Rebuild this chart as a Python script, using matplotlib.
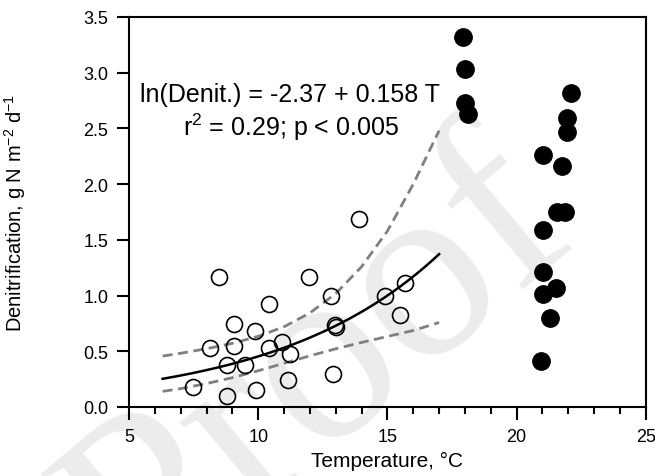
import numpy as np
import matplotlib
matplotlib.use("Agg")
import matplotlib.pyplot as plt
from matplotlib.ticker import MultipleLocator

plt.rcParams["font.family"] = ["Liberation Sans", "DejaVu Sans"]
plt.rcParams["mathtext.fontset"] = "custom"
plt.rcParams["mathtext.rm"] = "Liberation Sans"
plt.rcParams["mathtext.default"] = "regular"

# ─── Data ───────────────────────────────────────────────────────
# open circles: cooler-period samples used in the regression
open_temp = [7.46, 8.80, 9.90, 11.15, 12.90, 8.13, 8.80, 9.49, 9.06, 9.06,
             9.89, 10.42, 10.92, 11.23, 10.40, 8.47, 11.98, 12.81, 12.99,
             13.02, 13.91, 14.92, 15.68, 15.50]
open_denit = [0.18, 0.10, 0.15, 0.24, 0.30, 0.53, 0.38, 0.38, 0.55, 0.745,
              0.685, 0.53, 0.585, 0.475, 0.92, 1.17, 1.17, 1.00, 0.74,
              0.72, 1.69, 1.00, 1.11, 0.825]

# filled circles: warm-period samples
filled_temp = [17.93, 18.02, 18.02, 18.10, 22.12, 21.94, 21.94, 21.03, 21.77,
               21.57, 21.87, 21.03, 21.03, 21.52, 21.03, 21.29, 20.94]
filled_denit = [3.32, 3.03, 2.73, 2.63, 2.82, 2.59, 2.47, 2.26, 2.16,
                1.75, 1.75, 1.59, 1.21, 1.07, 1.01, 0.80, 0.41]

# fitted model ln(Denit.) = a + b T, drawn over the open-circle range
fit_intercept = -2.37
fit_slope = 0.158
fit_range = [6.3, 17.0]

# confidence band (dashed), read at these temperatures
band_temp = [6.3, 7, 8, 9, 10, 11, 12, 13, 14, 15, 16, 17]
band_upper = [0.457, 0.482, 0.523, 0.571, 0.634, 0.720, 0.844, 1.018,
              1.259, 1.579, 2.00, 2.48]
band_lower = [0.140, 0.165, 0.210, 0.263, 0.325, 0.392, 0.459, 0.522,
              0.579, 0.633, 0.686, 0.758]

# ─── Figure ─────────────────────────────────────────────────────
fig = plt.figure(figsize=(6.55, 4.77), dpi=100)
ax = fig.add_axes([0.197, 0.1447, 0.789, 0.8176])
ax.patch.set_alpha(0)

# "Proof" watermark behind everything
fig.text(0.49, 0.22, "Proof", fontsize=185, family="Liberation Serif",
         color="#ececec", rotation=40, ha="center", va="center", zorder=-1)

t = np.linspace(fit_range[0], fit_range[1], 200)
ax.plot(t, np.exp(fit_intercept + fit_slope * t), color="black", lw=1.8,
        zorder=3)
ax.plot(band_temp, band_upper, color="#808080", lw=2, dashes=(3.6, 2),
        zorder=2)
ax.plot(band_temp, band_lower, color="#808080", lw=2, dashes=(3.6, 2),
        zorder=2)

ax.plot(open_temp, open_denit, "o", mfc="none", mec="black", mew=1.2,
        ms=11.5, zorder=4)
ax.plot(filled_temp, filled_denit, "o", color="black", ms=12.5, zorder=4)

ax.text(11.23, 2.81, "ln(Denit.) = -2.37 + 0.158 T", fontsize=18,
        ha="center", va="center")
ax.text(11.28, 2.52, "r$^2$ = 0.29; p < 0.005", fontsize=18,
        ha="center", va="center")

ax.set_xlim(5, 25)
ax.set_ylim(0, 3.5)
ax.xaxis.set_major_locator(MultipleLocator(5))
ax.xaxis.set_minor_locator(MultipleLocator(1))
ax.yaxis.set_major_locator(MultipleLocator(0.5))
ax.yaxis.set_major_formatter(plt.FormatStrFormatter("%.1f"))
ax.tick_params(axis="both", which="major", length=9, width=1.5,
               labelsize=13, direction="out", pad=6)
ax.tick_params(axis="x", which="minor", length=5, width=1.5, direction="out")
for s in ax.spines.values():
    s.set_linewidth(1.5)

ax.set_xlabel("Temperature, °C", fontsize=15)
ax.xaxis.set_label_coords(0.5, -0.113)
ax.set_ylabel("Denitrification, g N m$^{-2}$ d$^{-1}$", fontsize=14.5)
ax.yaxis.set_label_coords(-0.195, 0.5)

fig.savefig("out.png", dpi=100)
